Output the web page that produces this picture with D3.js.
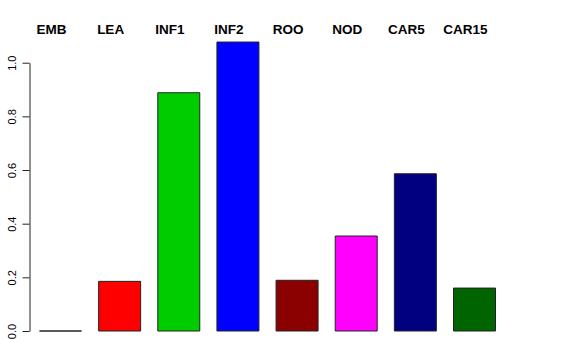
<!DOCTYPE html>
<html>
<head>
<meta charset="utf-8">
<script src="https://cdn.jsdelivr.net/npm/d3@7"></script>
<style>
  body { margin: 0; background: #fff; }
  svg { display: block; font-family: "Liberation Sans", Arial, sans-serif; }
</style>
</head>
<body>
<script>
// data
var tissues = ["EMB", "LEA", "INF1", "INF2", "ROO", "NOD", "CAR5", "CAR15"];
var values = [0, 0.185, 0.888, 1.077, 0.189, 0.354, 0.586, 0.160];
var colors = ["#000000", "#ff0000", "#00cd00", "#0000ff", "#8b0000", "#ff00ff", "#000080", "#006400"];
var yTicks = [0, 0.2, 0.4, 0.6, 0.8, 1.0];

var width = 576,
    height = 360;

var svg = d3.select("body").append("svg")
  .attr("width", width)
  .attr("height", height);

var x = d3.scaleBand()
  .domain(tissues)
  .range([39, 495])
  .paddingInner(0.29)
  .paddingOuter(0);

var y = d3.scaleLinear()
  .domain([0, 1])
  .range([331, 62.7]);

// bars as paths so a zero bar still shows its outline
svg.append("g")
  .selectAll("path")
  .data(tissues)
  .enter()
.append("path")
  .attr("d", function(d, i) {
    var x0 = x(d) + 0.5,
        x1 = x0 + x.bandwidth(),
        y0 = y(0),
        y1 = y(values[i]);
    return "M" + x0 + "," + y0 + "H" + x1 + "V" + y1 + "H" + x0 + "Z";
  })
  .attr("fill", function(d, i) { return colors[i]; })
  .attr("stroke", "#222")
  .attr("stroke-width", 1);

// labels over the top
svg.append("g")
  .selectAll("text")
  .data(tissues)
  .enter()
.append("text")
  .attr("x", function(d) { return x(d) + x.bandwidth() / 2 - 8.5; })
  .attr("y", 34)
  .attr("text-anchor", "middle")
  .style("font-size", "13.5px")
  .style("font-weight", "bold")
  .text(function(d) { return d; });

// y axis, R style with rotated labels
var yAxis = d3.axisLeft(y)
  .tickValues(yTicks)
  .tickFormat(d3.format(".1f"))
  .tickSize(7)
  .tickSizeOuter(0);

var gy = svg.append("g")
  .attr("transform", "translate(29.5,0)")
  .call(yAxis);

gy.select(".domain").attr("stroke", "#222");
gy.selectAll(".tick line").attr("stroke", "#222");
gy.selectAll(".tick text")
  .attr("x", null)
  .attr("dy", null)
  .attr("text-anchor", "middle")
  .attr("transform", "translate(-14,0) rotate(-90)")
  .attr("fill", "#000")
  .style("font-size", "11px")
  .style("font-family", "Liberation Sans, Arial, sans-serif");
</script>
</body>
</html>
